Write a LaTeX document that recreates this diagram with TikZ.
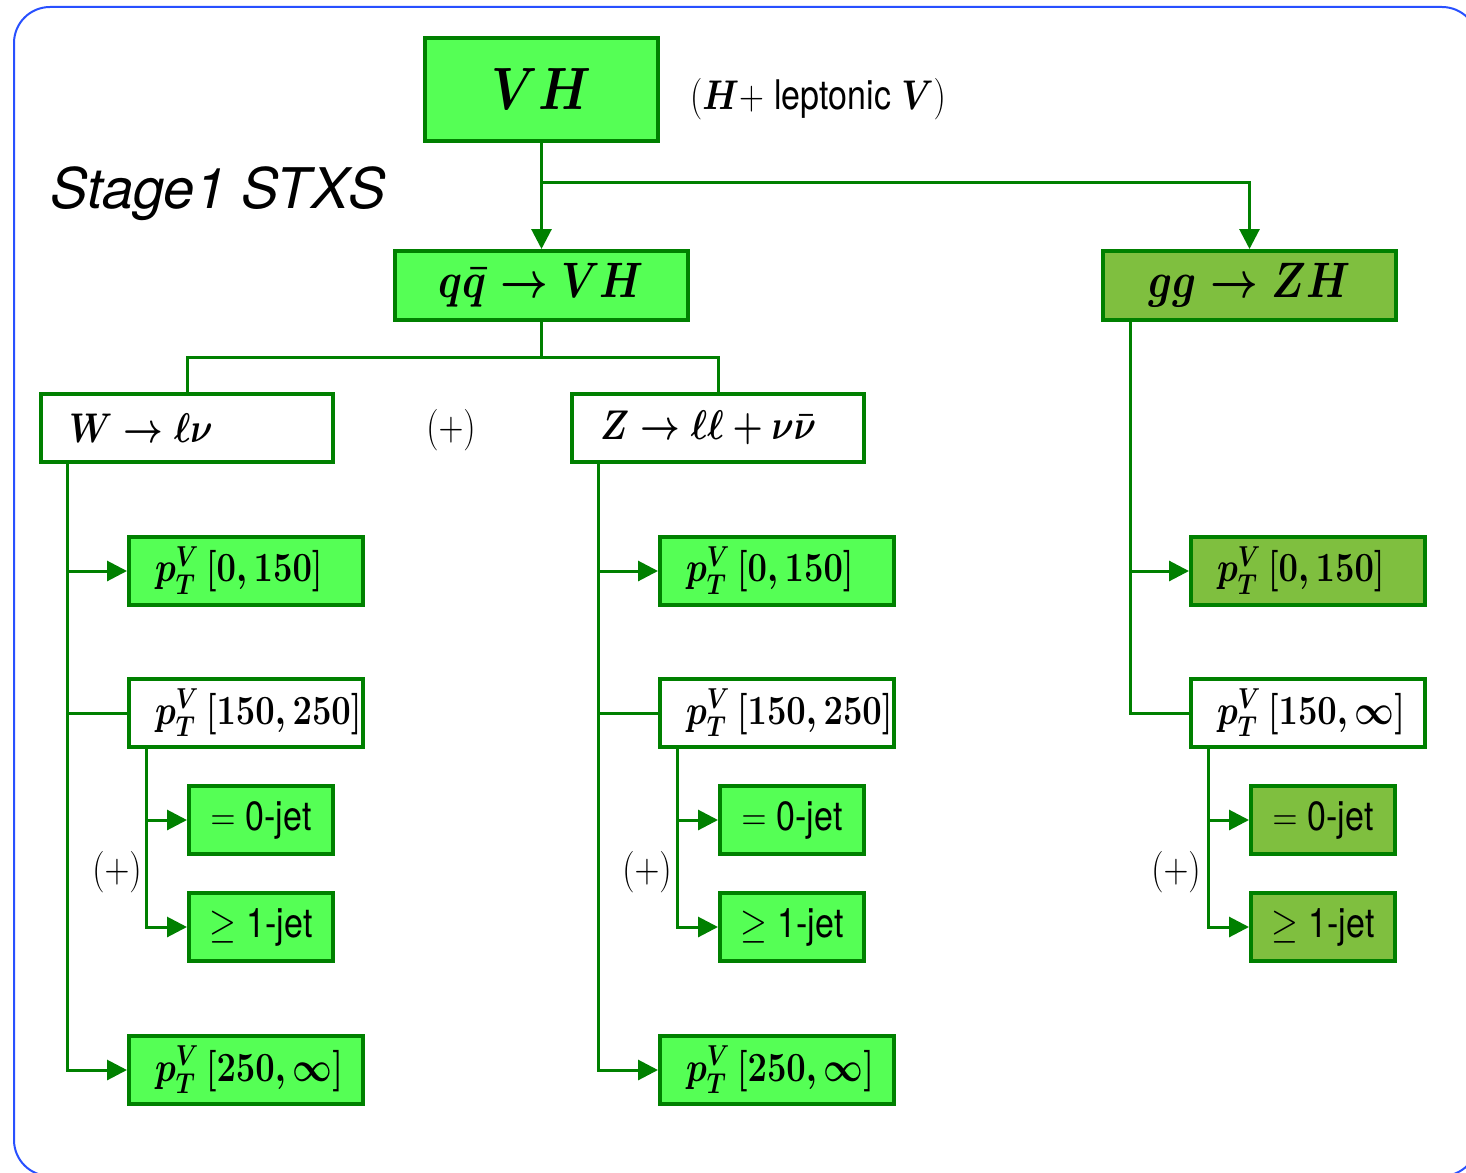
\documentclass[tikz,border=0pt]{standalone}
\usepackage{fontspec}
\usepackage{bm}
\usepackage{graphicx}
\usetikzlibrary{arrows.meta,calc}
\newfontfamily\hsans{TeX Gyre Heros}
\definecolor{bgreen}{RGB}{85,255,85}
\definecolor{ogreen}{RGB}{127,191,63}
\definecolor{dgreen}{RGB}{0,128,0}
\definecolor{bblue}{RGB}{40,80,255}
\newcommand\vst[1]{\scalebox{1}[1.2]{#1}}
\newcommand\fsz[1]{\fontsize{#1}{#1}\selectfont}
\begin{document}
\begin{tikzpicture}[x=0.5pt,y=-0.5pt,
  box/.style={draw=dgreen, line width=2pt, inner sep=0pt, minimum height=34pt, font=\fsz{18}\boldmath},
  gbox/.style={box, fill=bgreen},
  obox/.style={box, fill=ogreen},
  wbox/.style={box, fill=white},
  ptw/.style={text width=91pt, inner xsep=13pt, align=left},
  wzw/.style={text width=118pt, inner xsep=14pt, align=left, font=\fsz{18.5}\boldmath},
  jetw/.style={minimum width=72pt, font=\fsz{17}},
  topw/.style={minimum width=146.5pt, minimum height=34.5pt, font=\fsz{22}\boldmath},
  plus/.style={font=\fsz{17.5}, inner sep=0pt},
  conn/.style={draw=dgreen, line width=1.5pt},
  arr/.style={conn, -{Triangle[length=10pt,width=10pt]}}
]
\clip (0,0) rectangle (1466,1172);
\draw[bblue, line width=1pt, rounded corners=18pt] (14,7) rectangle (1478,1176);

% title label
\node[anchor=base west, inner sep=0pt, font=\hsans\itshape\fsz{28}] (stage) at (50,208) {Stage1 STXS};

% top nodes
\node[gbox, minimum width=116.5pt, minimum height=51.5pt, font=\fsz{25}\boldmath] (VH) at (541.5,89.5) {\vst{$VH$}};
\node[inner sep=0pt, font=\fsz{17}] (lab) at (818,99) {\vst{$(\bm{H}+$ {\hsans leptonic} $\bm{V})$}};
\node[gbox, topw] (qq) at (541.5,285.5) {\vst{$q\bar q\to VH$}};
\node[obox, topw] (gg) at (1249.5,285.5) {\vst{$gg\to ZH$}};

% second level
\node[wbox, wzw] (W) at (187,428) {\vst{$W\to\ell\nu$}};
\node[plus] (p0) at (451,430) {\vst{$(+)$}};
\node[wbox, wzw] (Z) at (718,428) {\vst{$Z\to\ell\ell+\nu\bar\nu$}};

% left column
\node[gbox, ptw] (Lp1) at (246,571) {\vst{$p_T^V\,[0,150]$}};
\node[wbox, ptw] (Lp2) at (246,713) {\vst{$p_T^V\,[150,250]$}};
\node[gbox, jetw] (Lj0) at (261,820) {\vst{$=$ {\hsans 0-jet}}};
\node[gbox, jetw] (Lj1) at (261,927) {\vst{$\geq$ {\hsans 1-jet}}};
\node[plus] (pL) at (117,872) {\vst{$(+)$}};
\node[gbox, ptw] (Lp3) at (246,1070) {\vst{$p_T^V\,[250,\infty]$}};

% middle column
\node[gbox, ptw] (Mp1) at (777,571) {\vst{$p_T^V\,[0,150]$}};
\node[wbox, ptw] (Mp2) at (777,713) {\vst{$p_T^V\,[150,250]$}};
\node[gbox, jetw] (Mj0) at (792,820) {\vst{$=$ {\hsans 0-jet}}};
\node[gbox, jetw] (Mj1) at (792,927) {\vst{$\geq$ {\hsans 1-jet}}};
\node[plus] (pM) at (647,872) {\vst{$(+)$}};
\node[gbox, ptw] (Mp3) at (777,1070) {\vst{$p_T^V\,[250,\infty]$}};

% right column
\node[obox, ptw] (Rp1) at (1308,571) {\vst{$p_T^V\,[0,150]$}};
\node[wbox, ptw] (Rp2) at (1308,713) {\vst{$p_T^V\,[150,\infty]$}};
\node[obox, jetw] (Rj0) at (1323,820) {\vst{$=$ {\hsans 0-jet}}};
\node[obox, jetw] (Rj1) at (1323,927) {\vst{$\geq$ {\hsans 1-jet}}};
\node[plus] (pR) at (1176,872) {\vst{$(+)$}};

% connectors top
\draw[arr] (VH.south) -- (qq.north);
\draw[arr] (VH.south) -- ++(0,39) -| (gg.north);
\draw[conn] (qq.south) -- ++(0,35) -| (W.north);
\draw[conn] (qq.south) -- ++(0,35) -| (Z.north);

% left trunk
\coordinate (tL) at ($(W.south west)+(28,0)$);
\draw[arr] (tL) |- (Lp1.west);
\draw[conn] (tL) |- (Lp2.west);
\draw[arr] (tL) |- (Lp3.west);
\coordinate (sL) at ($(Lp2.south west)+(19,0)$);
\draw[arr] (sL) |- (Lj0.west);
\draw[arr] (sL) |- (Lj1.west);

% middle trunk
\coordinate (tM) at ($(Z.south west)+(28,0)$);
\draw[arr] (tM) |- (Mp1.west);
\draw[conn] (tM) |- (Mp2.west);
\draw[arr] (tM) |- (Mp3.west);
\coordinate (sM) at ($(Mp2.south west)+(19,0)$);
\draw[arr] (sM) |- (Mj0.west);
\draw[arr] (sM) |- (Mj1.west);

% right trunk
\coordinate (tR) at ($(gg.south west)+(29,0)$);
\draw[arr] (tR) |- (Rp1.west);
\draw[conn] (tR) |- (Rp2.west);
\coordinate (sR) at ($(Rp2.south west)+(19,0)$);
\draw[arr] (sR) |- (Rj0.west);
\draw[arr] (sR) |- (Rj1.west);
\end{tikzpicture}
\end{document}
